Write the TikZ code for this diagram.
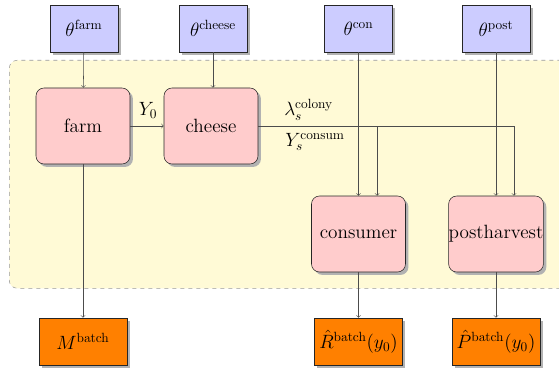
\documentclass[tikz,border=0pt]{standalone}
\usetikzlibrary{shadows}
\definecolor{bgyellow}{RGB}{255,250,214}
\begin{document}
\begin{tikzpicture}[x=0.75pt,y=-0.75pt,
  base/.style={draw=black!85, thin, font=\Large, inner sep=0pt,
    drop shadow={shadow xshift=2.2pt, shadow yshift=-2.2pt, fill=black!30, opacity=1}},
  parbox/.style={base, fill=blue!20, minimum width=51pt, minimum height=35.25pt},
  procbox/.style={base, fill=red!20, rounded corners=6pt, minimum width=70.5pt, minimum height=57pt},
  outbox/.style={base, fill=orange, minimum width=66pt, minimum height=35.25pt},
  conn/.style={draw=black!70, ->, thin},
  lbl/.style={font=\Large, inner sep=0pt}
]
\useasboundingbox (0,0) rectangle (559,367);
\begin{scope}
\clip (0,0) rectangle (559,367);
\node[draw=black!40, dashed, fill=bgyellow, rounded corners=6pt, minimum width=420pt, minimum height=171pt, anchor=north west] (bg) at (9,60) {};
\end{scope}
\node[parbox] (tfarm) at (84,28.5) {$\theta^{\mathrm{farm}}$};
\node[parbox] (tcheese) at (213,28.5) {$\theta^{\mathrm{cheese}}$};
\node[parbox] (tcon) at (358.5,28.5) {$\theta^{\mathrm{con}}$};
\node[parbox] (tpost) at (496,28.5) {$\theta^{\mathrm{post}}$};
\node[procbox] (farm) at (83,126) {farm};
\node[procbox] (cheese) at (211,126) {cheese};
\node[procbox] (consumer) at (358.5,234) {consumer};
\node[procbox] (post) at (496,234) {postharvest};
\node[outbox] (M) at (83,341.5) {$M^{\mathrm{batch}}$};
\node[outbox] (R) at (358.5,341.5) {$\hat{R}^{\mathrm{batch}}(y_0)$};
\node[outbox] (P) at (496,341.5) {$\hat{P}^{\mathrm{batch}}(y_0)$};
\draw[conn] (tfarm) -- (farm);
\draw[conn] (tcheese) -- (tcheese |- cheese.north);
\draw[conn] (tcon) -- (consumer);
\draw[conn] (tpost) -- (post);
\draw[conn] (farm) -- (cheese);
\node[lbl] (y0) at (148,110) {$Y_0$};
\draw[conn] (cheese.east) -| ([xshift=14pt]consumer.north);
\draw[conn] (cheese.east) -| ([xshift=13.5pt]post.north);
\node[lbl, anchor=west] (lam) at (284,110) {$\lambda_s^{\mathrm{colony}}$};
\node[lbl, anchor=west] (ycon) at (285,142) {$Y_s^{\mathrm{consum}}$};
\draw[conn] (farm) -- (M);
\draw[conn] (consumer) -- (R);
\draw[conn] (post) -- (P);
\end{tikzpicture}
\end{document}
